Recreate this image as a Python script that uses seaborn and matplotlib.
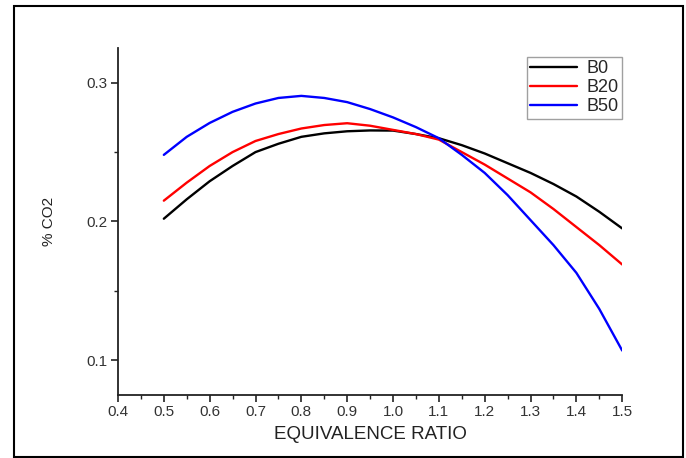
import matplotlib
matplotlib.use('Agg')
import matplotlib.pyplot as plt
from matplotlib.ticker import MultipleLocator, FormatStrFormatter
from matplotlib.patches import Rectangle
import pandas as pd
import seaborn as sns

# Equivalence ratio values
ratio = [0.5, 0.55, 0.6, 0.65, 0.7, 0.75, 0.8, 0.85, 0.9, 0.95, 1.0,
         1.05, 1.1, 1.15, 1.2, 1.25, 1.3, 1.35, 1.4, 1.45, 1.5]

b0 = [0.202, 0.216, 0.229, 0.240, 0.250, 0.256, 0.261, 0.2635, 0.265, 0.2656, 0.2655,
      0.263, 0.260, 0.255, 0.249, 0.242, 0.235, 0.227, 0.218, 0.207, 0.195]
b20 = [0.215, 0.228, 0.240, 0.250, 0.258, 0.263, 0.267, 0.2695, 0.2708, 0.269, 0.266,
       0.263, 0.259, 0.250, 0.241, 0.231, 0.221, 0.209, 0.196, 0.183, 0.169]
b50 = [0.248, 0.261, 0.271, 0.279, 0.285, 0.289, 0.2905, 0.289, 0.286, 0.281, 0.275,
       0.268, 0.260, 0.248, 0.235, 0.219, 0.201, 0.183, 0.163, 0.137, 0.107]

blends = ['B0', 'B20', 'B50']
colors = ['black', 'red', 'blue']

df = pd.DataFrame({
    'ratio': ratio * 3,
    'co2': b0 + b20 + b50,
    'blend': [b for b in blends for _ in ratio],
})

sns.set_style('ticks')
plt.rcParams['font.family'] = ['Liberation Sans', 'DejaVu Sans']

fig = plt.figure(figsize=(6.86, 4.58), dpi=100)
ax = fig.add_axes([0.172, 0.1376, 0.735, 0.7576])

sns.lineplot(data=df, x='ratio', y='co2', hue='blend', palette=colors,
             linewidth=1.7, ax=ax)

ax.set_xlim(0.4, 1.5)
ax.set_ylim(0.075, 0.325)
ax.xaxis.set_major_locator(MultipleLocator(0.1))
ax.xaxis.set_minor_locator(MultipleLocator(0.05))
ax.yaxis.set_major_locator(MultipleLocator(0.1))
ax.yaxis.set_minor_locator(MultipleLocator(0.05))
ax.xaxis.set_major_formatter(FormatStrFormatter('%.1f'))
ax.yaxis.set_major_formatter(FormatStrFormatter('%.1f'))
ax.tick_params(which='major', length=5, width=1.2, labelsize=11, pad=2.5,
               color='#222222', labelcolor='#333333')
ax.tick_params(which='minor', length=3, width=1.0, color='#222222')

for s in ['top', 'right']:
    ax.spines[s].set_visible(False)
for s in ['left', 'bottom']:
    ax.spines[s].set_linewidth(1.3)
    ax.spines[s].set_color('#222222')

ax.set_xlabel('EQUIVALENCE RATIO', fontsize=13.5, color='#222222', labelpad=5)
ax.set_ylabel('% CO2', fontsize=11, color='#222222', labelpad=22)

leg = ax.legend(loc='upper right', bbox_to_anchor=(1.0, 0.975), fontsize=13,
                frameon=True, fancybox=False, handlelength=2.6,
                borderpad=0.2, labelspacing=0.1, handletextpad=0.5,
                borderaxespad=0.0)
leg.get_frame().set_edgecolor('#888888')
leg.get_frame().set_linewidth(1.0)

# frame drawn around the whole picture
fig.patches.append(Rectangle((14 / 686, 1 / 458), 669 / 686, 451 / 458,
                             transform=fig.transFigure, fill=False,
                             edgecolor='black', linewidth=1.5))

fig.savefig('out.png', dpi=100)
